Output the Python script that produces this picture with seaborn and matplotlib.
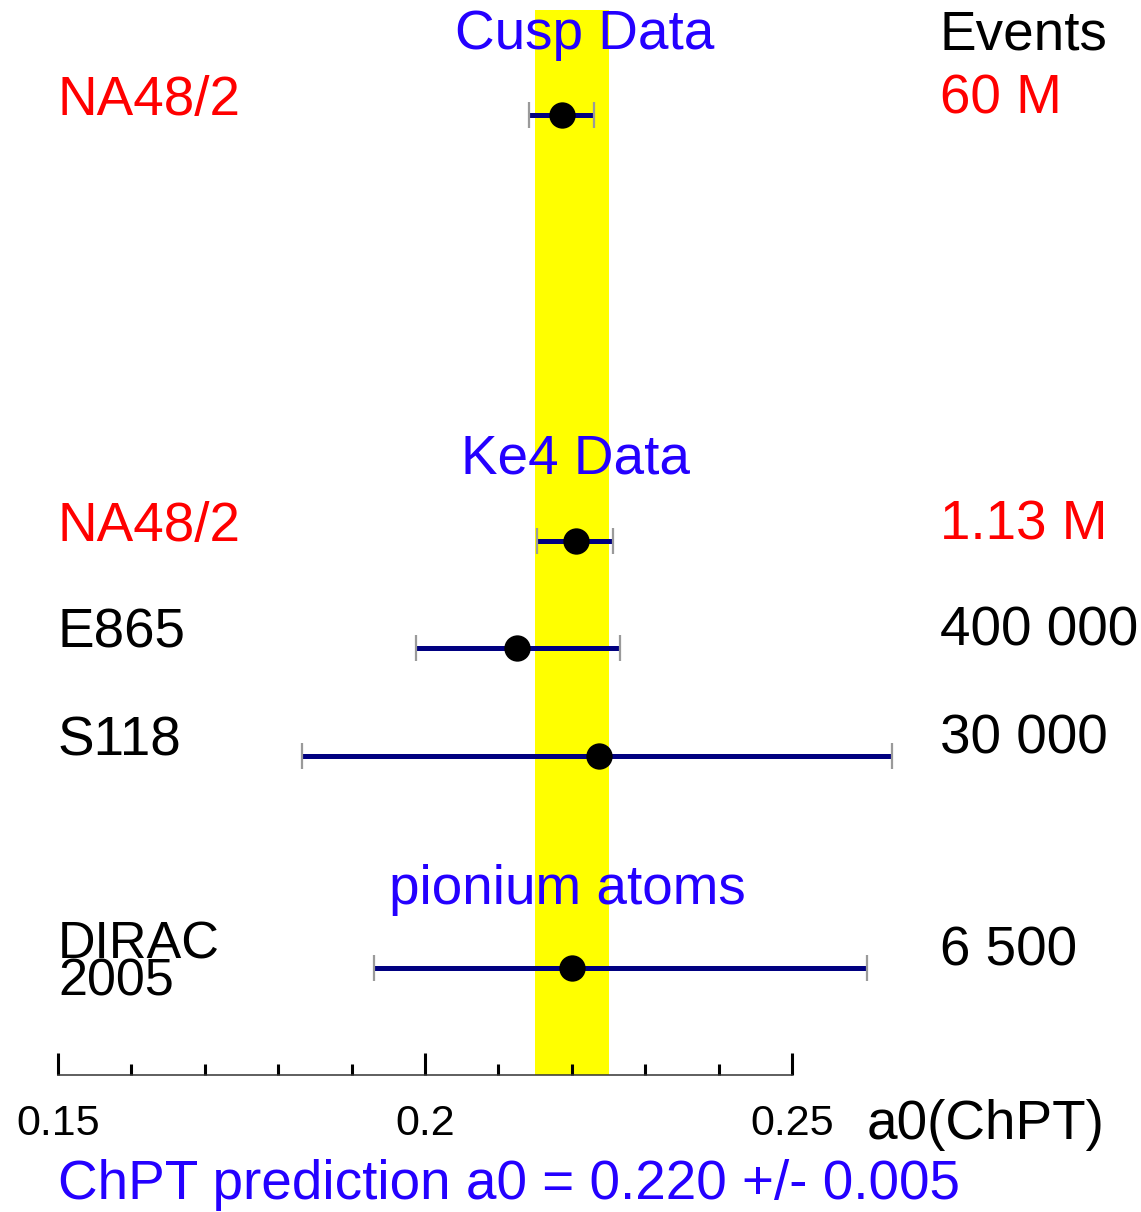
import matplotlib
matplotlib.use("Agg")
import matplotlib.pyplot as plt
import numpy as np
import pandas as pd
import seaborn as sns

# Measurements of the pi-pi scattering length a0
experiments = ["NA48/2 cusp", "NA48/2 Ke4", "E865", "S118", "DIRAC 2005"]
a0_value = [0.2187, 0.2206, 0.2125, 0.2237, 0.2200]
a0_err_low = [0.0045, 0.0053, 0.0137, 0.0405, 0.0269]
a0_err_high = [0.0043, 0.0050, 0.0141, 0.0399, 0.0402]
left_labels = ["NA48/2", "NA48/2", "E865", "S118", "DIRAC\n2005"]
left_colors = ["#ff0000", "#ff0000", "black", "black", "black"]
event_labels = ["60 M", "1.13 M", "400 000", "30 000", "6 500"]
event_colors = ["#ff0000", "#ff0000", "black", "black", "black"]

# ChPT prediction band
chpt_center = 0.220
chpt_err = 0.005

# axis ticks
major_ticks = [0.15, 0.2, 0.25]
major_labels = ["0.15", "0.2", "0.25"]
minor_ticks = [0.16, 0.17, 0.18, 0.19, 0.21, 0.22, 0.23, 0.24]

# vertical layout (rows counted downward)
row_pos = [115, 541, 648, 756, 968]
section_titles = ["Cusp Data", "Ke4 Data", "pionium atoms"]
section_x = [0.2217, 0.2205, 0.2194]
section_y = [49, 474, 904]

BLUE = "#2400ff"
NAVY = "#000080"

sns.set_theme(style="white")
plt.rcParams["font.family"] = ["Liberation Sans", "DejaVu Sans"]

W, H = 1141, 1212
fig = plt.figure(figsize=(W / 100, H / 100), dpi=100)
ax = fig.add_axes([58 / W, 137 / H, (792 - 58) / W, (1075 - 10) / H])
ax.set_xlim(0.15, 0.25)
ax.set_ylim(1075, 10)

df = pd.DataFrame({"experiment": experiments, "a0": a0_value, "row": row_pos,
                   "lo": a0_err_low, "hi": a0_err_high})

# prediction band
ax.axvspan(chpt_center - chpt_err, chpt_center + chpt_err, color="#ffff00",
           zorder=0, lw=0)

# error bars
eb = ax.errorbar(df["a0"], df["row"], xerr=[df["lo"], df["hi"]], fmt="none",
                 ecolor=NAVY, elinewidth=3.6, capsize=0, zorder=2)
for coll in eb.lines[2]:
    coll.set_clip_on(False)
# thin grey end caps
for xs in (df["a0"] - df["lo"], df["a0"] + df["hi"]):
    vl = ax.vlines(xs, df["row"] - 13, df["row"] + 13,
                   color="#9a9a9a", lw=1.6, zorder=3)
    vl.set_clip_on(False)

# central values
sns.scatterplot(data=df, x="a0", y="row", color="black", s=360,
                edgecolor="black", linewidth=0, zorder=4, ax=ax, legend=False)

# axis styling
for side in ["top", "left", "right"]:
    ax.spines[side].set_visible(False)
ax.spines["bottom"].set_color("#333333")
ax.spines["bottom"].set_linewidth(1.1)
ax.set_yticks([])
ax.set_xticks(major_ticks)
ax.set_xticklabels(major_labels)
ax.set_xticks(minor_ticks, minor=True)
ax.tick_params(axis="x", which="major", direction="in", length=16, width=2.2,
               color="black", labelsize=31, pad=21, labelcolor="black",
               bottom=True)
ax.tick_params(axis="x", which="minor", direction="in", length=8, width=2.2,
               color="black", bottom=True)
ax.set_xlabel("")
ax.set_ylabel("")
ax.patch.set_alpha(0)

FS = 39.5
FS_TWO_LINE = 37.5

# experiment names and event counts
for lab, col, y in zip(left_labels, left_colors, row_pos):
    if "\n" in lab:
        ax.text(0.15, y + 28, lab, color=col, fontsize=FS_TWO_LINE,
                ha="left", va="baseline", linespacing=0.70, clip_on=False)
    else:
        ax.text(0.15, y, lab, color=col, fontsize=FS, ha="left",
                va="baseline", clip_on=False)
ax.text(0.27016, 49, "Events", color="black", fontsize=FS, ha="left",
        va="baseline", clip_on=False)
for lab, col, y in zip(event_labels, event_colors, row_pos):
    ax.text(0.27016, y - 2, lab, color=col, fontsize=FS, ha="left",
            va="baseline", clip_on=False)

# section headings
for t, x, y in zip(section_titles, section_x, section_y):
    ax.text(x, y, t, color=BLUE, fontsize=FS, ha="center", va="baseline",
            clip_on=False, zorder=5)

# axis title and prediction note
ax.text(0.2601, 1139, "a0(ChPT)", color="black", fontsize=FS, ha="left",
        va="baseline", clip_on=False)
ax.text(0.15, 1199, "ChPT prediction a0 = 0.220 +/- 0.005", color=BLUE,
        fontsize=FS, ha="left", va="baseline", clip_on=False)

fig.savefig("out.png", dpi=100)
